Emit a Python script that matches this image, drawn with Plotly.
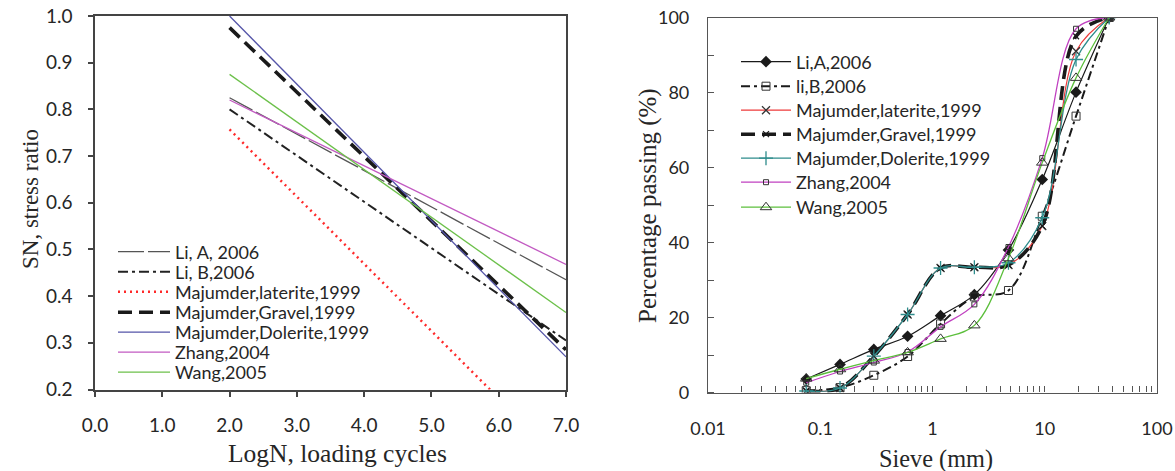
import plotly.graph_objects as go

# ---------------- Left chart data (S-N lines) ----------------
logn = [2.0, 7.0]
li_a_sn = [0.825, 0.435]
li_b_sn = [0.800, 0.305]
laterite_logn = [2.0, 5.87]
laterite_sn = [0.757, 0.200]
gravel_sn = [0.975, 0.285]
dolerite_sn = [1.000, 0.270]
zhang_sn = [0.820, 0.468]
wang_sn = [0.875, 0.365]
left_names = ["Li, A, 2006", "Li, B,2006", "Majumder,laterite,1999", "Majumder,Gravel,1999",
              "Majumder,Dolerite,1999", "Zhang,2004", "Wang,2005"]
left_xticks = [0, 1, 2, 3, 4, 5, 6, 7]
left_yticks = [0.2, 0.3, 0.4, 0.5, 0.6, 0.7, 0.8, 0.9, 1.0]

# ---------------- Right chart data (gradation) ----------------
sieve = [0.075, 0.15, 0.3, 0.6, 1.18, 2.36, 4.75, 9.5, 19, 37.5]
li_a_pass = [3.6, 7.5, 11.5, 15.0, 20.5, 26.1, 38.0, 56.8, 80.1, 100]
li_b_pass = [0.5, 1.3, 4.6, 9.6, 18.3, 25.5, 27.2, 47.0, 73.7, 100]
laterite_pass = [0.4, 1.2, 9.7, 20.8, 33.2, 33.4, 34.0, 44.4, 91.0, 100]
gravel_pass = [0.4, 1.2, 9.7, 20.8, 33.2, 33.4, 34.0, 44.4, 95.0, 100]
dolerite_pass = [0.4, 1.2, 9.7, 20.8, 33.2, 33.4, 34.6, 46.6, 88.8, 100]
zhang_pass = [2.6, 5.6, 8.0, 10.8, 17.5, 23.5, 38.8, 62.5, 97.0, 100]
wang_pass = [3.7, 6.2, 8.5, 10.7, 14.3, 17.9, 35.8, 61.3, 83.9, 100]
right_names = ["Li,A,2006", "li,B,2006", "Majumder,laterite,1999", "Majumder,Gravel,1999",
               "Majumder,Dolerite,1999", "Zhang,2004", "Wang,2005"]
right_yticks = [0, 20, 40, 60, 80, 100]
decades = [0.01, 0.1, 1, 10, 100]

W, H = 1175, 471
SANS = "Lato"
SERIF = "Liberation Serif"
TXT = "#262626"

def px_x(p):
    return p / W

def px_y(p):
    return (H - p) / H

fig = go.Figure()

# ---- left traces ----
left_series = [
    (logn, li_a_sn, dict(color="#555555", width=1.3, dash="26px,4px")),
    (logn, li_b_sn, dict(color="#222222", width=2.0, dash="10px,4px,3px,4px")),
    (laterite_logn, laterite_sn, dict(color="#ff2a2a", width=2.5, dash="2px,4px")),
    (logn, gravel_sn, dict(color="#1a1a1a", width=3.6, dash="14px,7px")),
    (logn, dolerite_sn, dict(color="#5454a8", width=1.3)),
    (logn, zhang_sn, dict(color="#c25ac2", width=1.3)),
    (logn, wang_sn, dict(color="#6cc04a", width=1.3)),
]
left_legend_y = [252, 272, 292, 312.5, 332.5, 352.5, 372.5]
for i, (xs, ys, ln) in enumerate(left_series):
    lg = "legend" if i == 0 else f"legend{i + 1}"
    fig.add_trace(go.Scatter(x=xs, y=ys, mode="lines", line=ln, name=left_names[i],
                             xaxis="x", yaxis="y", legend=lg))

# ---- right traces ----
right_series = [
    (li_a_pass, dict(color="#1a1a1a", width=1.2),
     dict(symbol="diamond", size=9, color="#1a1a1a")),
    (li_b_pass, dict(color="#1a1a1a", width=2.0, dash="9px,4px,3px,4px"),
     dict(symbol="square-open", size=8, color="#333333", line=dict(width=1))),
    (laterite_pass, dict(color="#ee3a3a", width=1.2),
     dict(symbol="x-thin-open", size=8, color="#333333", line=dict(width=1.3))),
    (gravel_pass, dict(color="#1a1a1a", width=3.6, dash="14px,7px"),
     dict(symbol="x-thin-open", size=6, color="#1a1a1a", line=dict(width=1.2))),
    (dolerite_pass, dict(color="#2e8c8c", width=1.3),
     dict(symbol="cross-thin-open", size=10, color="#2e8c8c", line=dict(width=1.3))),
    (zhang_pass, dict(color="#c040c0", width=1.3),
     dict(symbol="square-open", size=5, color="#333333", line=dict(width=1))),
    (wang_pass, dict(color="#5cbf3c", width=1.3),
     dict(symbol="triangle-up-open", size=10, color="#333333", line=dict(width=1))),
]
right_legend_y = [62, 86.5, 110.5, 134.5, 158.5, 182.5, 207.5]
for i, (ys, ln, mk) in enumerate(right_series):
    fig.add_trace(go.Scatter(x=sieve, y=ys, mode="lines+markers",
                             line=dict(shape="spline", smoothing=1.0, **ln),
                             marker=mk, name=right_names[i], xaxis="x2", yaxis="y2",
                             legend=f"legend{i + 8}"))

# ---- legends ----
legend_layout = {}
for i, yc in enumerate(left_legend_y):
    key = "legend" if i == 0 else f"legend{i + 1}"
    legend_layout[key] = dict(x=px_x(113), y=px_y(yc), xanchor="left", yanchor="middle",
                              bgcolor="rgba(0,0,0,0)", font=dict(family=SANS, size=18, color=TXT),
                              itemwidth=52, borderwidth=0)
for i, yc in enumerate(right_legend_y):
    legend_layout[f"legend{i + 8}"] = dict(x=px_x(736), y=px_y(yc), xanchor="left", yanchor="middle",
                                           bgcolor="rgba(0,0,0,0)",
                                           font=dict(family=SANS, size=18, color=TXT),
                                           itemwidth=50, borderwidth=0)

minor_vals = []
for d in decades[:-1]:
    for m in range(1, 10):
        minor_vals.append(d * m)
minor_vals.append(100)
minor_text = [("%g" % v) if v in decades else "" for v in minor_vals]

fig.update_layout(
    width=W, height=H,
    margin=dict(l=0, r=0, t=0, b=0, autoexpand=False),
    paper_bgcolor="white", plot_bgcolor="white",
    showlegend=True,
    xaxis=dict(domain=[px_x(95), px_x(566)], range=[0, 7], tickvals=left_xticks,
               ticktext=["%.1f" % v for v in left_xticks], automargin=False,
               showgrid=False, zeroline=False, showline=True, linecolor="#444444", linewidth=1.5,
               mirror=True, ticks="outside", ticklen=6, tickcolor="#444444", tickwidth=1.5,
               ticklabelstandoff=12,
               tickfont=dict(family=SANS, size=19, color=TXT)),
    yaxis=dict(domain=[px_y(389.5), px_y(16)], range=[0.2, 1.0], tickvals=left_yticks,
               ticktext=["%.1f" % v for v in left_yticks], automargin=False,
               showgrid=False, zeroline=False, showline=True, linecolor="#444444", linewidth=1.5,
               mirror=True, ticks="outside", ticklen=5, tickcolor="#444444", tickwidth=1.5,
               ticklabelstandoff=12,
               tickfont=dict(family=SANS, size=19, color=TXT)),
    xaxis2=dict(domain=[px_x(708), px_x(1157)], type="log", range=[-2, 2],
                tickvals=minor_vals, ticktext=minor_text, automargin=False,
                showgrid=False, zeroline=False, showline=True, linecolor="#555555", linewidth=1.2,
                mirror=True, ticks="inside", ticklen=6, tickcolor="#555555", tickwidth=1,
                ticklabelstandoff=20, anchor="y2",
                tickfont=dict(family=SANS, size=18, color=TXT)),
    yaxis2=dict(domain=[px_y(392.5), px_y(17.5)], range=[0, 100], tickvals=right_yticks,
                automargin=False,
                showgrid=False, zeroline=False, showline=True, linecolor="#555555", linewidth=1.2,
                mirror=True, ticks="", anchor="x2",
                minor=dict(ticks="inside", dtick=10, ticklen=6, tickcolor="#555555", tickwidth=1),
                ticklabelstandoff=14,
                tickfont=dict(family=SANS, size=18, color=TXT)),
    **legend_layout,
)

annotations = [
    dict(text="SN, stress ratio", x=px_x(30), y=px_y(199), textangle=-90,
         font=dict(family=SERIF, size=23, color=TXT)),
    dict(text="LogN, loading cycles", x=px_x(337), y=px_y(453),
         font=dict(family=SERIF, size=25.5, color=TXT)),
    dict(text="Percentage passing (%)", x=px_x(648), y=px_y(206), textangle=-90,
         font=dict(family=SERIF, size=25, color=TXT)),
    dict(text="Sieve (mm)", x=px_x(936), y=px_y(459),
         font=dict(family=SERIF, size=24.3, color=TXT)),
]
for a in annotations:
    fig.add_annotation(xref="paper", yref="paper", showarrow=False, xanchor="center", yanchor="middle", **a)

fig.write_html("out.html", config={"displayModeBar": False},
               post_script="document.body.style.margin='0';document.body.style.overflow='hidden';")
